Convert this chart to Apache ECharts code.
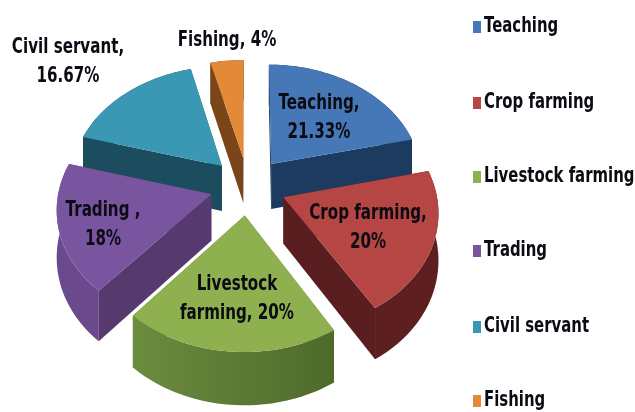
<!DOCTYPE html>
<html><head><meta charset="utf-8">
<style>html,body{margin:0;padding:0;background:#fff}#c{width:635px;height:412px}</style>
<script src="https://cdn.jsdelivr.net/npm/echarts@6/dist/echarts.min.js"></script>
</head><body><div id="c"></div>
<script>
const categories = ['Teaching','Crop farming','Livestock farming','Trading','Civil servant','Fishing'];
const shares = [21.33,20,20,18,16.67,4];
const labelTexts = ['Teaching,\n21.33%','Crop farming,\n20%','Livestock\nfarming, 20%','Trading ,\n18%','Civil servant,\n16.67%','Fishing, 4%'];
const topColors = ['#4677B6','#B64643','#8FB04E','#7A559F','#3B98B5','#E28A37'];
const wallColors = ['#1D3B5E','#5A1E20','#5F7A35','#56396F','#1B4D5E','#7A4518'];
const outerLeft = ['#1D3B5E','#5E1F20','#6C8C3F','#6A4A8C','#1B4D5E','#7A4518'];
const outerRight = ['#1D3B5E','#5E1F20','#4E6A2B','#6A4A8C','#1B4D5E','#7A4518'];
const labelAnchors = [[319,118],[368,228],[237,299],[103,225],[68,62],[227,41]];
const legendRows = [27,103,177,251,327,401];

const total = shares.reduce((a,b)=>a+b,0);
const starts = shares.map((_,i)=>shares.slice(0,i).reduce((a,b)=>a+b,0));
const view = {cx:248, cy:186, R:152, explode:38, tilt:0.755, persp:0.00072, depth:46};
const textStyle = {fontFamily:'"DejaVu Sans"',fontWeight:'bold',fontSize:21,fill:'#0B0B14'};
const labelScale = 0.72, legendScale = 0.71;

function project(u,v){
  const s = 1/(1+view.persp*v);
  return [view.cx+u*s, view.cy-v*view.tilt*s, s];
}
function renderSlice(idx){
  return function(params, api){
    const a0 = api.value(1)/total*Math.PI*2, a1 = (api.value(1)+api.value(0))/total*Math.PI*2;
    const mid = (a0+a1)/2, ex = view.explode*Math.sin(mid), ey = view.explode*Math.cos(mid);
    const apex = project(ex,ey), rim = [];
    const n = Math.max(8,Math.round((a1-a0)/0.03));
    for(let k=0;k<=n;k++){const t=a0+(a1-a0)*k/n; rim.push(project(ex+view.R*Math.sin(t),ey+view.R*Math.cos(t)));}
    const down = p=>[p[0],p[1]+view.depth*p[2]];
    const outerFill = {type:'linear',x:0,y:0,x2:1,y2:0,colorStops:[{offset:0,color:outerLeft[idx]},{offset:1,color:outerRight[idx]}]};
    const walls = [
      {line:[apex,rim[0]],fill:wallColors[idx]},
      {line:[apex,rim[n]],fill:wallColors[idx]},
      {line:rim,fill:outerFill}
    ].map(w=>({w,my:w.line.reduce((s,p)=>s+p[1],0)/w.line.length})).sort((a,b)=>a.my-b.my);
    const children = walls.map(o=>({type:'polygon',shape:{points:o.w.line.map(p=>p.slice(0,2)).concat(o.w.line.slice().reverse().map(down))},style:{fill:o.w.fill}}));
    children.push({type:'polygon',shape:{points:[apex].concat(rim).map(p=>p.slice(0,2))},style:{fill:api.visual('color')}});
    const la = labelAnchors[idx];
    children.push({type:'text',x:la[0],y:la[1],scaleX:labelScale,style:Object.assign({text:labelTexts[idx],x:0,y:0,align:'center',verticalAlign:'middle',lineHeight:29.5},textStyle),z2:10});
    return {type:'group',children};
  };
}
const mids = starts.map((s,i)=>Math.cos((s+shares[i]/2)/total*Math.PI*2));
const legendGraphics = [];
categories.forEach((name,i)=>{
  legendGraphics.push({type:'rect',x:473,y:legendRows[i]-6,shape:{x:0,y:0,width:8,height:12},style:{fill:topColors[i]}});
  legendGraphics.push({type:'text',x:484,y:legendRows[i],scaleX:legendScale,style:Object.assign({text:name,x:0,y:0,align:'left',verticalAlign:'middle'},textStyle)});
});
const chart = echarts.init(document.getElementById('c'),null,{renderer:'canvas'});
chart.setOption({
  backgroundColor:'#fff', animation:false,
  graphic:{elements:legendGraphics},
  series:categories.map((name,i)=>({
    type:'custom',name,coordinateSystem:'none',silent:true,clip:false,
    z:10-mids[i]*4,itemStyle:{color:topColors[i]},
    renderItem:renderSlice(i),
    data:[[shares[i],starts[i]]]
  }))
});
</script></body></html>
